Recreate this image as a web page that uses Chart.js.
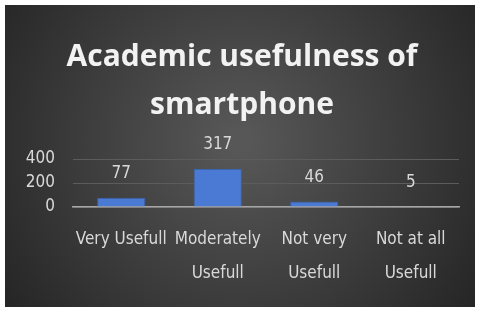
<!DOCTYPE html>
<html>
<head>
<meta charset="utf-8">
<script src="https://cdn.jsdelivr.net/npm/chart.js@4"></script>
<style>
  html, body { margin: 0; padding: 0; background: #fff; }
  #wrap { position: absolute; left: 5px; top: 5px; width: 470px; height: 302px; }
</style>
</head>
<body>
<div id="wrap"><canvas id="grafico"></canvas></div>
<script>
// dados
const categorias = [["Very Usefull"], ["Moderately", "Usefull"], ["Not very", "Usefull"], ["Not at all", "Usefull"]];
const valores = [77, 317, 46, 5];
const ticksY = [0, 200, 400];

const fonteEstreita = "'DejaVu Sans Condensed', 'DejaVu Sans', sans-serif";

// fundo com gradiente radial
const fundo = {
    id: "fundo",
    beforeDraw(chart) {
        const { ctx, width, height } = chart;
        const g = ctx.createRadialGradient(width / 2, height * 0.45, 10, width / 2, height * 0.45, width * 0.65);
        g.addColorStop(0, "#575757");
        g.addColorStop(1, "#222222");
        ctx.save();
        ctx.fillStyle = g;
        ctx.fillRect(0, 0, width, height);
        ctx.restore();
    }
};

// rótulos acima das barras
const rotulos = {
    id: "rotulos",
    afterDatasetsDraw(chart) {
        const { ctx } = chart;
        const meta = chart.getDatasetMeta(0);
        ctx.save();
        ctx.fillStyle = "#d9d9d9";
        ctx.font = "17px " + fonteEstreita;
        ctx.textAlign = "center";
        ctx.textBaseline = "middle";
        meta.data.forEach((bar, i) => {
            ctx.fillText(String(valores[i]), bar.x, bar.y - 24);
        });
        ctx.restore();
    }
};

const ctx = document.getElementById("grafico").getContext("2d");
new Chart(ctx, {
    type: "bar",
    data: {
        labels: categorias,
        datasets: [{
            data: valores,
            backgroundColor: "#4a7ad4",
            borderColor: "#3a63b0",
            borderWidth: 1,
            categoryPercentage: 1,
            barPercentage: 0.5
        }]
    },
    options: {
        responsive: true,
        maintainAspectRatio: false,
        animation: false,
        layout: { padding: { left: 20, right: 16, top: 28, bottom: 8 } },
        plugins: {
            legend: { display: false },
            tooltip: { enabled: false },
            title: {
                display: true,
                text: ["Academic usefulness of", "smartphone"],
                color: "#f2f2f2",
                font: { family: "'Open Sans', sans-serif", size: 30, weight: "bold", lineHeight: 1.6 },
                padding: { top: 0, bottom: 30 }
            }
        },
        scales: {
            y: {
                min: 0,
                max: 400,
                afterBuildTicks: axis => { axis.ticks = ticksY.map(v => ({ value: v })); },
                afterFit: axis => { axis.width = 48; },
                grid: { color: "#5c5c5c", lineWidth: 1, drawTicks: false },
                border: { display: false },
                ticks: {
                    color: "#d9d9d9",
                    padding: 18,
                    autoSkip: false,
                    font: { family: fonteEstreita, size: 17, lineHeight: 1.0 }
                }
            },
            x: {
                afterFit: axis => { axis.paddingLeft = 0; axis.paddingRight = 0; },
                grid: { display: false },
                border: { display: true, color: "#a6a6a6", width: 1.5 },
                ticks: {
                    color: "#d9d9d9",
                    padding: 8,
                    maxRotation: 0,
                    autoSkip: false,
                    font: { family: fonteEstreita, size: 17, lineHeight: 2.0 }
                }
            }
        }
    },
    plugins: [fundo, rotulos]
});
</script>
</body>
</html>
